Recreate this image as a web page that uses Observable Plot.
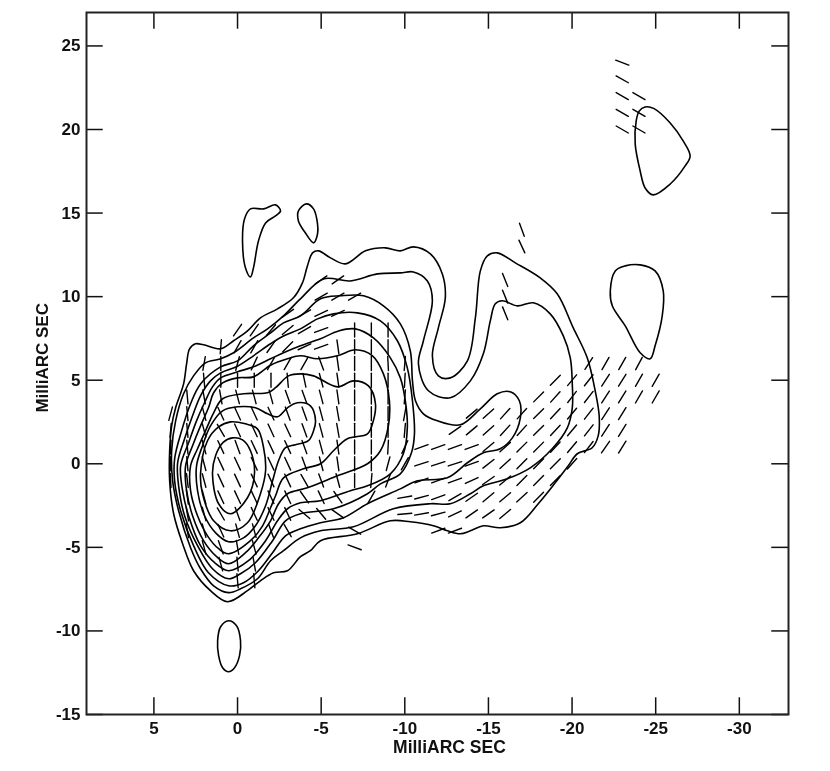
<!DOCTYPE html>
<html><head><meta charset="utf-8">
<script src="https://cdn.jsdelivr.net/npm/d3@7"></script>
<script src="https://cdn.jsdelivr.net/npm/@observablehq/plot@0.6"></script>
<style>html,body{margin:0;padding:0;background:#fff}svg{display:block}</style>
</head><body><div id="chart"></div><script>
const xTicks=[5,0,-5,-10,-15,-20,-25,-30];
const yTicks=[25,20,15,10,5,0,-5,-10,-15];
const xLabel="MilliARC SEC", yLabel="MilliARC SEC";
// contour outlines, flat x,y lists in milliarcsec (outermost first)
const contour1=[0.60,-8.25,1.63,-7.59,2.65,-6.40,3.31,-4.78,3.85,-2.99,4.09,-1.02,4.09,0.78,3.97,2.27,3.73,3.35,3.25,4.78,3.07,5.98,2.89,6.88,2.53,7.18,2.05,7.12,1.02,6.88,0.24,7.36,-0.60,7.95,-1.38,8.73,-2.41,9.27,-3.37,9.93,-3.91,10.82,-4.21,11.84,-4.52,12.62,-4.88,12.74,-5.60,12.32,-6.50,11.96,-7.71,12.74,-8.91,12.92,-9.81,12.74,-10.60,12.98,-11.62,12.56,-12.34,11.36,-12.52,9.93,-12.10,8.13,-11.74,6.46,-12.10,5.26,-12.82,5.14,-13.85,6.16,-14.33,8.73,-14.63,11.54,-15.05,12.44,-15.65,12.62,-16.74,12.02,-18.24,11.12,-19.26,10.17,-20.23,8.13,-21.07,6.34,-21.55,4.37,-21.79,2.87,-21.73,1.67,-21.37,0.96,-20.47,0.60,-19.93,-0.12,-19.14,-1.14,-18.12,-2.39,-17.04,-3.53,-15.83,-3.83,-14.81,-3.71,-14.03,-4.01,-13.42,-4.19,-12.64,-4.01,-11.80,-3.71,-10.41,-3.47,-9.21,-3.41,-7.22,-4.19,-5.00,-4.60,-4.39,-5.20,-3.79,-5.56,-3.01,-6.40,-2.17,-6.52,-1.38,-7.00,-0.60,-7.59];
const contour2=[0.54,-7.71,1.44,-7.30,2.23,-6.28,2.83,-5.02,3.55,-2.81,3.91,-1.02,3.97,0.78,3.73,2.57,3.25,4.19,2.65,5.26,1.93,6.04,1.02,6.28,0.24,6.64,-0.96,7.53,-1.81,8.07,-2.77,8.85,-3.79,9.87,-5.18,11.06,-6.80,10.94,-8.43,11.36,-9.81,11.42,-10.60,11.48,-11.44,10.94,-11.74,9.75,-11.20,7.36,-10.90,5.98,-11.50,4.37,-12.82,3.95,-14.03,4.96,-14.81,6.58,-15.23,8.55,-15.53,9.57,-15.95,9.75,-16.86,9.45,-17.82,9.63,-18.84,8.97,-19.63,7.65,-20.05,6.34,-20.17,4.78,-20.17,3.35,-19.87,2.15,-18.96,0.90,-17.64,-0.24,-16.25,-0.90,-14.81,-1.32,-14.03,-1.79,-12.82,-2.39,-11.62,-2.39,-9.39,-2.69,-6.98,-3.77,-5.00,-4.01,-3.79,-4.43,-2.77,-5.20,-1.99,-5.80,-1.20,-6.88,-0.18,-7.48];
const contour3=[0.54,-7.30,1.75,-6.52,2.65,-4.90,3.43,-2.81,3.79,-1.02,3.79,0.30,3.37,1.97,2.83,3.59,2.23,4.78,1.02,5.80,0,6.16,-0.96,7.06,-1.99,7.83,-2.77,8.43,-3.79,8.85,-5.00,9.87,-6.20,10.05,-7.59,10.05,-8.79,9.45,-9.81,8.37,-10.41,6.76,-10.54,4.96,-10.72,3.77,-11.20,2.99,-12.04,2.57,-13.42,2.33,-14.63,3.29,-15.65,4.19,-16.43,4.31,-16.98,3.77,-17.04,2.75,-16.56,1.55,-15.83,0.90,-14.81,0.66,-13.85,0.06,-12.64,-0.84,-10.84,-1.02,-9.81,-1.50,-7.83,-2.39,-6.38,-3.23,-5.00,-3.53,-3.79,-3.89,-2.89,-4.31,-2.11,-5.32,-1.26,-6.40,-0.36,-7.12];
const contour4=[0.54,-6.88,1.51,-6.28,2.41,-4.90,3.19,-3.11,3.55,-1.32,3.61,0.06,3.19,1.50,2.71,2.87,2.23,4.07,1.63,4.96,1.02,5.44,0,5.84,-0.96,6.46,-1.99,7.18,-2.77,7.65,-3.79,8.07,-4.82,8.67,-5.78,8.97,-7.22,9.03,-8.61,8.55,-9.63,7.36,-10.23,5.74,-10.54,3.77,-10.66,1.79,-10.48,0.66,-9.81,-0.60,-8.61,-1.20,-7.83,-1.79,-5.78,-2.69,-3.79,-2.99,-2.89,-3.41,-2.11,-4.60,-1.08,-5.92,-0.18,-6.58];
const contour5=[0.54,-6.40,1.38,-5.92,2.23,-4.90,2.95,-3.11,3.31,-1.61,3.43,-0.12,2.95,1.26,2.47,2.57,1.99,3.65,1.51,4.60,1.02,5.14,0,5.50,-0.96,5.80,-1.99,6.28,-2.77,6.64,-3.79,7.06,-5.00,7.48,-6.08,7.95,-7.10,8.07,-8.19,7.53,-9.21,6.34,-9.81,5.14,-10.11,3.77,-10.23,2.15,-9.99,0.60,-9.21,-0.60,-7.83,-1.32,-6.80,-1.61,-5.00,-2.21,-3.79,-2.33,-3.01,-2.69,-2.41,-3.41,-1.69,-4.60,-0.66,-5.80];
const contour6=[0.54,-5.98,1.26,-5.56,2.05,-4.60,2.71,-3.11,3.07,-1.61,3.13,-0.12,2.71,1.08,2.23,2.27,1.75,3.35,1.44,4.25,0.90,4.84,0,5.14,-0.96,5.20,-1.99,5.90,-3.01,6.28,-3.79,6.46,-4.82,6.28,-6.02,6.46,-7.10,6.82,-8.13,6.46,-8.79,5.38,-9.15,3.77,-9.09,2.27,-8.61,0.78,-7.83,0,-6.02,-0.72,-4.21,-1.44,-3.01,-1.79,-2.47,-2.39,-1.99,-3.41,-1.26,-4.43,-0.48,-5.32];
const contour7=[0.54,-5.38,1.14,-5.08,1.81,-4.31,2.41,-3.11,2.83,-1.61,2.83,-0.12,2.41,0.90,1.93,1.97,1.44,3.05,0.90,3.89,-0.36,4.19,-1.81,4.25,-2.29,4.55,-3.07,5.26,-3.79,5.38,-4.58,5.26,-6.02,4.60,-6.98,4.96,-7.89,4.66,-8.31,3.59,-8.13,2.39,-7.83,1.79,-6.62,1.50,-5.78,0.78,-5.00,0,-3.97,-0.30,-2.77,-0.84,-2.29,-1.91,-1.99,-2.63,-1.51,-3.71,-0.78,-4.60];
const contour8=[0.54,-4.66,1.32,-4.13,1.99,-3.11,2.41,-1.61,2.47,-0.12,2.11,1.08,1.63,2.27,0.90,3.17,0,3.41,-1.08,3.35,-1.81,2.99,-2.41,2.81,-3.01,3.35,-3.61,3.65,-4.39,3.47,-4.70,2.57,-4.58,1.97,-4.27,1.38,-3.49,1.14,-2.89,0.96,-2.47,0.18,-2.11,-1.02,-1.69,-2.51,-1.08,-3.71,-0.36,-4.43];
const contour9=[0.42,2.51,-0.48,2.39,-1.20,2.09,-1.57,0.96,-1.69,-0.42,-1.38,-1.79,-0.60,-3.53,0.42,-4.01,1.44,-3.41,2.11,-1.79,2.23,-0.60,1.81,1.38,1.14,2.21];
const contour10=[0.30,1.55,-0.30,1.43,-0.78,0.78,-1.02,-0.60,-0.60,-2.03,0.42,-2.99,1.14,-2.39,1.51,-0.60,1.32,0.50,0.85,1.30];
const islandSouth=[0.54,-9.39,0.06,-9.69,-0.18,-10.58,-0.12,-11.48,0.18,-12.20,0.54,-12.44,0.90,-12.20,1.14,-11.48,1.20,-10.58,1.02,-9.75];
const islandFarNorth=[-24.56,21.35,-25.10,21.25,-26.07,20.39,-26.85,19.32,-27.27,18.42,-26.97,17.82,-26.07,16.74,-25.04,16.09,-24.56,16.50,-24.26,17.52,-23.96,19.14,-24.02,20.51,-24.20,21.10];
const islandEast=[-23.36,11.84,-24.26,11.90,-25.16,11.54,-25.65,10.35,-25.59,8.85,-25.16,7.06,-24.86,6.28,-24.26,6.64,-23.36,8.25,-22.58,9.45,-22.46,10.35,-22.76,11.54];
const islandNorthA=[-0.78,15.25,-1.57,15.25,-2.29,15.49,-2.59,15.13,-2.29,14.83,-1.69,14.41,-1.26,13.33,-0.96,11.72,-0.78,11.18,-0.48,11.72,-0.30,13.33,-0.42,14.65];
const islandNorthB=[-4.15,15.55,-4.58,15.25,-4.82,14.35,-4.82,13.75,-4.58,13.22,-4.09,13.81,-3.67,14.53,-3.67,15.13];
const contourLists=[contour1,contour2,contour3,contour4,contour5,contour6,contour7,contour8,contour9,contour10,islandSouth,islandFarNorth,islandEast,islandNorthA,islandNorthB];
const readingScale=16.6/16.73;

// polarization sticks: [y, first x, angles clockwise from north, one per 1 mas step toward negative x]
const stickRows=[
[24,-23,[111]],[23,-23,[119]],[22,-23,[120,120]],[21,-23,[120,120]],[20,-23,[120,120]],
[14,-17,[-20]],[13,-17,[-25]],
[11,-5,[55,55]],[11,-16,[-22]],
[10,-5,[60,60,60]],[10,-16,[-22]],
[9,-3,[55,60,65,65]],[9,-16,[-22]],
[8,0,[35,35,40,50,60,70]],[8,-7,[0,0,0]],
[7,1,[5,30,30,35,45,65,70,-8,0,0,0]],
[6,2,[10,0,15,25,30,30,30,-20,-8,0,0,-3,5]],[6,-21,[33,30,30,28]],
[5,2,[-5,0,0,0,0,-5,-12,-15,-8,0,0,0,3]],[5,-19,[45,40,38,33,32,30,30]],
[4,3,[-5,-10,-10,-15,-15,-15,-20,-20,-15,-8,0,0,0,5]],[4,-18,[45,42,38,38,33,32,30,30]],
[3,4,[15,-5,-15,-25,-25,-25,-25,-20,-20,-15,-10,0,0,0,10]],[3,-14,[50,48,42,42,45,43,40,38,33,32]],
[2,4,[5,-5,-15,-30,-25,-25,-25,-25,-20,-15,-10,0,0,0,5]],[2,-13,[55,50,48,42,42,45,43,40,38,33,32]],
[1,4,[3,-5,-15,-25,-20,-25,-25,-25,-20,-15,-8,0,0,3,25,70,70,70,70,50,48,45,45,43,40,38,35,32]],
[0,4,[0,-5,-15,-25,-25,-25,-25,-25,-20,-15,-8,0,0,15,30,72,72,72,70,52,48,45,45,45,42]],
[-1,4,[-3,-7,-15,-25,-25,-25,-25,-25,-30,-20,-15,0,5,20]],[-1,-11,[70,70,70,65,55,50,45,45,45]],
[-2,3,[-8,-15,-25,-25,-25,-25,-25,-35,-25,-35]],[-2,-8,[30]],[-2,-10,[80,75,70,60,55,50,50,48,45]],
[-3,3,[-10,-15,-30,-20,-25,-25,-25,-50,-40,-55]],[-3,-10,[85,80,75,65,55,55,50]],
[-4,3,[-10,-15,-25,-15,-15,-20,-30]],[-4,-7,[-60]],[-4,-12,[70,70]],
[-5,2,[-15,-20,-10,-15]],[-5,-7,[-70]],
[-6,1,[-15,-5,-10]],
[-7,0,[-5,-5]]
];

const sticks=stickRows.flatMap(([y,x0,angles])=>angles.map((r,i)=>({x:x0-i,y,r})));
const toPoints=list=>d3.range(0,list.length,2).map(i=>({x:list[i]*readingScale,y:list[i+1]}));
const xLeft=9.03,xRight=-32.94,yBottom=-15,yTop=27;
const tickLen=1;

const chart=Plot.plot({
  width:830,height:771,
  marginLeft:86,marginRight:42,marginTop:12,marginBottom:57,
  x:{domain:[xLeft,xRight]},
  y:{domain:[yBottom,yTop]},
  style:{fontFamily:"'Liberation Sans',Arial,sans-serif",fontWeight:"bold",fontSize:"17px",color:"#111",background:"#fff",filter:"blur(0.4px)"},
  marks:[
    ...contourLists.map(c=>Plot.line(toPoints(c),{x:"x",y:"y",curve:"catmull-rom-closed",stroke:"#000",strokeWidth:1.6})),
    Plot.vector(sticks,{x:"x",y:"y",rotate:"r",length:14,anchor:"middle",stroke:"#000",strokeWidth:1.4,
      shape:{draw(ctx,l){ctx.moveTo(0,0);ctx.lineTo(0,-l);}}}),
    Plot.ruleX(xTicks,{y1:yBottom,y2:yBottom+tickLen,stroke:"#111",strokeWidth:1.5}),
    Plot.ruleX(xTicks,{y1:yTop,y2:yTop-tickLen,stroke:"#111",strokeWidth:1.5}),
    Plot.ruleY(yTicks,{x1:xLeft,x2:xLeft-tickLen,stroke:"#111",strokeWidth:1.5}),
    Plot.ruleY(yTicks,{x1:xRight,x2:xRight+tickLen,stroke:"#111",strokeWidth:1.5}),
    Plot.frame({stroke:"#222",strokeWidth:2}),
    Plot.axisX({ticks:xTicks,tickSize:0,tickPadding:7,tickFormat:d=>String(d),label:null,fontSize:17,fontWeight:"bold"}),
    Plot.axisY({ticks:yTicks,tickSize:0,tickPadding:6,tickFormat:d=>String(d),label:null,fontSize:17,fontWeight:"bold"}),
    Plot.text([xLabel],{x:[-12.67],y:[yBottom],dy:33,text:d=>d,fontSize:17.5,fontWeight:"bold",fill:"#111"}),
    Plot.text([yLabel],{x:[xLeft],y:[6.34],dx:-44,text:d=>d,rotate:-90,fontSize:17,fontWeight:"bold",fill:"#111"})
  ]
});
document.getElementById("chart").append(chart);
</script></body></html>
